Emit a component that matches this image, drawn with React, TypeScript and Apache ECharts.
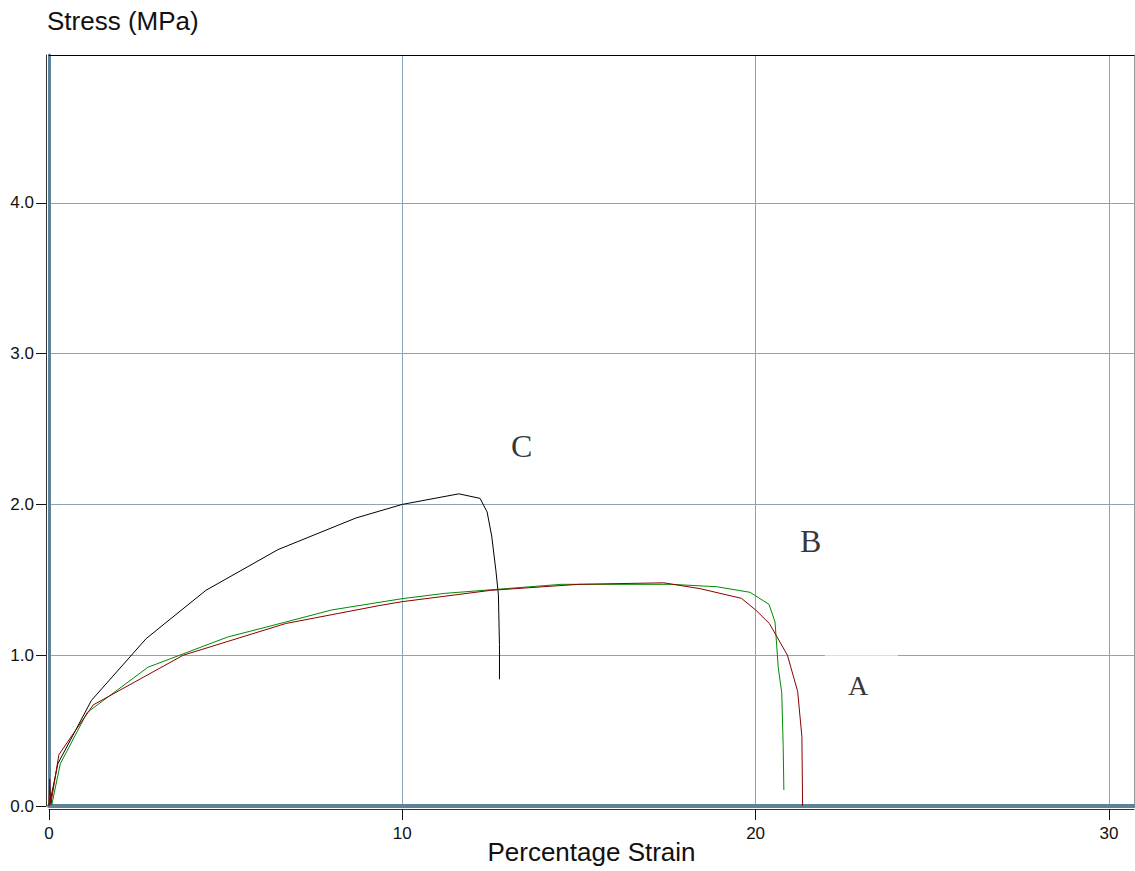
import React, { useEffect, useRef } from "react";
import * as echarts from "echarts";

const xTicks = [0, 10, 20, 30];
const yTicks = [0, 1, 2, 3, 4];

const curveC: [number, number][] = [
  [0, 0], [0.05, 0.05], [0.25, 0.28], [1.2, 0.7], [2.75, 1.11], [4.44, 1.43],
  [6.48, 1.7], [8.69, 1.91], [10.0, 2.0], [11.6, 2.07], [12.2, 2.04], [12.4, 1.95],
  [12.53, 1.79], [12.65, 1.56], [12.72, 1.4], [12.75, 1.07], [12.75, 0.84],
];

const curveA: [number, number][] = [
  [0, 0], [0.02, 0.18], [0.05, 0.01], [0.28, 0.34], [0.6, 0.45], [1.25, 0.67],
  [3.8, 1.0], [6.7, 1.21], [9.37, 1.33], [10, 1.355], [12.5, 1.43], [15.0, 1.47],
  [17.4, 1.48], [18.45, 1.44], [19.6, 1.377], [20.0, 1.3], [20.39, 1.21], [20.9, 1.0],
  [21.19, 0.76], [21.31, 0.46], [21.33, 0],
];

const curveB: [number, number][] = [
  [0, 0], [0.03, 0.11], [0.08, 0.01], [0.32, 0.28], [1.08, 0.62], [2.8, 0.92],
  [5.05, 1.12], [6.7, 1.22], [8.0, 1.3], [10, 1.375], [11.2, 1.41], [14.5, 1.47],
  [17.6, 1.47], [18.9, 1.454], [19.84, 1.417], [20.38, 1.337], [20.55, 1.22],
  [20.64, 0.92], [20.74, 0.75], [20.78, 0.4], [20.8, 0.106],
];

const labels = [
  { name: "C", value: [13.38, 2.39], size: 32 },
  { name: "B", value: [21.56, 1.755], size: 32 },
  { name: "A", value: [22.9, 0.8], size: 28 },
];

const X_MIN = xTicks[0];
const X_MAX = 30.71;
const Y_MIN = yTicks[0];
const Y_MAX = 4.98;

const SANS = "'Liberation Sans', Arial, sans-serif";
const SERIF = "'Liberation Serif', 'Times New Roman', serif";
const STEEL = "#5f829b";
const GRIDC = "#8aa4ba";

export default function App() {
  const ref = useRef<HTMLDivElement>(null);
  useEffect(() => {
    document.body.style.margin = "0";
    const chart = echarts.init(ref.current!, null, { renderer: "svg" });
    const xBase = { type: "value", min: X_MIN, max: X_MAX, interval: 10 };
    const yBase = { type: "value", min: Y_MIN, max: Y_MAX, interval: 1 };
    chart.setOption({
      animation: false,
      backgroundColor: "#fff",
      title: {
        text: "Stress (MPa)",
        left: 42,
        top: 3,
        textStyle: { fontFamily: SANS, fontSize: 26, fontWeight: "normal", color: "#111" },
      },
      grid: { left: 49, right: 1, top: 55, bottom: 65, containLabel: false, outerBoundsMode: "none" },
      xAxis: [
        {
          ...xBase,
          position: "bottom",
          axisLine: { show: true, onZero: false, lineStyle: { color: STEEL, width: 4 } },
          axisTick: { show: false },
          axisLabel: { show: false },
          splitLine: { show: true, lineStyle: { color: GRIDC, width: 1 } },
        },
        {
          ...xBase,
          position: "bottom",
          offset: 3,
          axisLine: { show: true, onZero: false, lineStyle: { color: "#333", width: 1 } },
          axisTick: { show: true, length: 11, customValues: xTicks, lineStyle: { color: "#111" } },
          axisLabel: {
            show: true,
            margin: 16,
            customValues: xTicks,
            fontFamily: SANS,
            fontSize: 17,
            color: "#111",
          },
          splitLine: { show: false },
          name: "Percentage Strain",
          nameLocation: "middle",
          nameGap: 30,
          nameMoveOverlap: false,
          nameTextStyle: { fontFamily: SANS, fontSize: 26, color: "#111" },
        },
        {
          ...xBase,
          position: "top",
          axisLine: { show: true, onZero: false, lineStyle: { color: "#000", width: 1 } },
          axisTick: { show: false },
          axisLabel: { show: false },
          splitLine: { show: false },
        },
      ],
      yAxis: [
        {
          ...yBase,
          position: "left",
          axisLine: { show: true, onZero: false, lineStyle: { color: STEEL, width: 3 } },
          axisTick: { show: false },
          axisLabel: { show: false },
          splitLine: { show: true, lineStyle: { color: GRIDC, width: 1 } },
        },
        {
          ...yBase,
          position: "left",
          offset: 3,
          axisLine: { show: true, onZero: false, lineStyle: { color: "#333", width: 1 } },
          axisTick: { show: true, length: 10, customValues: yTicks, lineStyle: { color: "#111" } },
          axisLabel: {
            show: true,
            margin: 12,
            customValues: yTicks,
            fontFamily: SANS,
            fontSize: 17,
            color: "#111",
            formatter: (v: number) => v.toFixed(1),
          },
          splitLine: { show: false },
        },
        {
          ...yBase,
          position: "right",
          axisLine: { show: true, onZero: false, lineStyle: { color: "#999", width: 1 } },
          axisTick: { show: false },
          axisLabel: { show: false },
          splitLine: { show: false },
        },
      ],
      series: [
        {
          type: "line",
          name: "C",
          data: curveC,
          symbol: "none",
          lineStyle: { color: "#000", width: 1 },
          z: 3,
        },
        {
          type: "line",
          name: "B",
          data: curveB,
          symbol: "none",
          lineStyle: { color: "#008a00", width: 1 },
          z: 4,
          markArea: {
            silent: true,
            itemStyle: { color: "rgba(255,255,255,0.65)" },
            data: [[{ coord: [21.96, 0.99] }, { coord: [24.03, 1.01] }]],
          },
        },
        {
          type: "line",
          name: "A",
          data: curveA,
          symbol: "none",
          lineStyle: { color: "#8b0000", width: 1 },
          z: 5,
        },
        {
          type: "scatter",
          name: "labels",
          symbolSize: 1,
          itemStyle: { color: "rgba(0,0,0,0)" },
          data: labels.map((l) => ({
            name: l.name,
            value: l.value,
            label: { fontSize: l.size },
          })),
          label: {
            show: true,
            position: "inside",
            formatter: "{b}",
            fontFamily: SERIF,
            color: "#000",
          },
          z: 6,
        },
      ],
    });
    return () => chart.dispose();
  }, []);
  return <div ref={ref} style={{ width: 1135, height: 871 }} />;
}
